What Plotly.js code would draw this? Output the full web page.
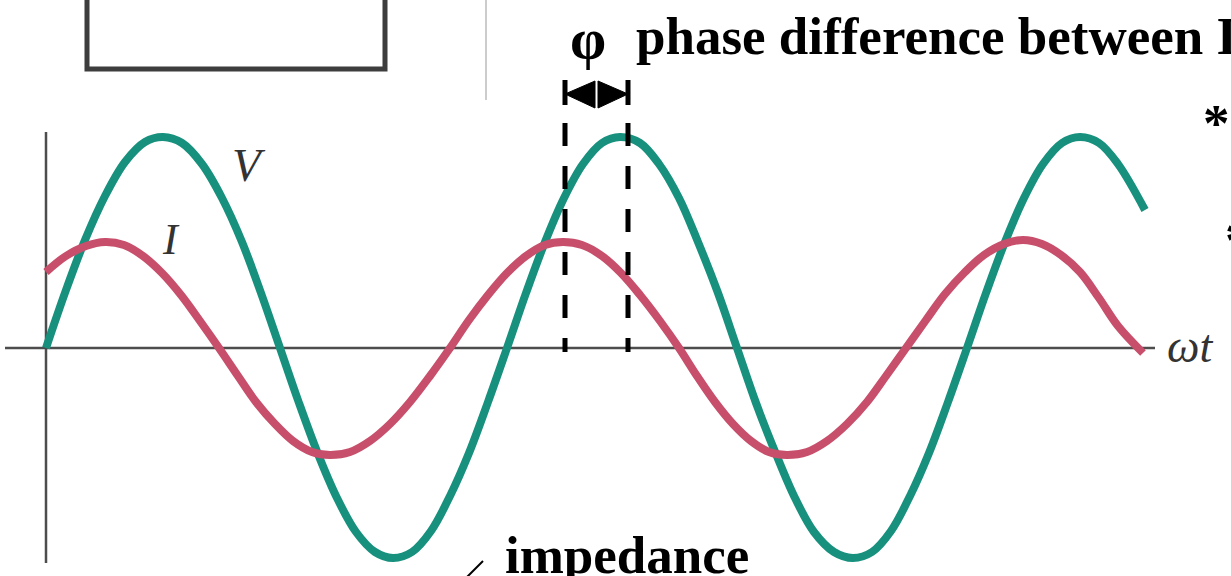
<!DOCTYPE html>
<html>
<head>
<meta charset="utf-8">
<script src="https://cdn.plot.ly/plotly-3.0.1.min.js"></script>
<style>html,body{margin:0;padding:0;background:#fff;}#chart{width:1231px;height:576px;}</style>
</head>
<body>
<div id="chart"></div>
<script>
// ωt positions (picture pixels from the origin) and values (pixels above the ωt axis)
const vT = [0, 20, 39, 59, 79, 99, 117, 136, 156, 176, 196, 215, 234, 253, 272, 291, 310, 329, 347, 366, 385, 404, 423, 442, 461, 480, 499, 518, 537, 556, 574, 594, 613, 633, 652, 672, 691, 710, 730, 749, 768, 788, 807, 826, 845, 864, 883, 902, 921, 940, 959, 978, 997, 1016, 1034, 1053, 1072, 1099];
const vVal = [0, 58, 108, 152, 186, 206, 211, 205, 184, 150, 106, 55, 0, -55, -106, -150, -184, -204, -210, -204, -183, -148, -105, -54, 0, 55, 106, 150, 184, 205, 211, 205, 184, 150, 106, 55, 0, -55, -106, -150, -184, -204, -210, -204, -183, -148, -105, -54, 0, 55, 106, 150, 184, 205, 211, 205, 184, 138];
const iT = [0, 20, 40, 59, 78, 97, 116, 135, 154, 173, 192, 210, 229, 247, 266, 284, 304, 324, 344, 364, 384, 404, 423, 442, 461, 480, 499, 517, 536, 556, 575, 594, 614, 633, 651, 669, 687, 705, 723, 741, 761, 781, 801, 821, 840, 860, 880, 899, 919, 938, 958, 977, 996, 1015, 1034, 1053, 1072, 1097];
const iVal = [76, 92, 102, 106, 103, 92, 75, 53, 27, 0, -28, -54, -76, -93, -104, -107, -104, -93, -76, -54, -28, 0, 28, 53, 75, 92, 103, 106, 103, 92, 75, 53, 27, 0, -28, -54, -76, -93, -104, -107, -104, -93, -76, -54, -28, 0, 28, 54, 76, 93, 104, 108, 104, 93, 76, 50, 22, -5];
const seriesNames = ["V", "I"];
const axisLabel = "ωt";
const titleText = "phase difference between I";
const phiText = "φ";
const lowerText = "impedance";

// layout helpers: convert picture pixels into axis coordinates
const OX = 46, OY = 348;
const X = px => px - OX;
const Y = py => OY - py;

const teal = "#17907d", rose = "#c84f6b", ink = "#000000", axisInk = "#4d4d4d";

const traces = [
  {x: vT, y: vVal, name: seriesNames[0], mode: "lines", line: {color: teal, width: 8, shape: "spline", smoothing: 1}, hoverinfo: "skip"},
  {x: iT, y: iVal, name: seriesNames[1], mode: "lines", line: {color: rose, width: 8, shape: "spline", smoothing: 1}, hoverinfo: "skip"}
];

const shapes = [
  // ωt axis and vertical axis
  {type: "line", x0: X(5), x1: X(1155), y0: Y(348), y1: Y(348), line: {color: axisInk, width: 2.5}, layer: "below"},
  {type: "line", x0: X(46), x1: X(46), y0: Y(132), y1: Y(563), line: {color: axisInk, width: 2.5}, layer: "below"},
  // box at top left
  {type: "path", path: `M ${X(87)} ${Y(-10)} L ${X(87)} ${Y(69)} L ${X(385)} ${Y(69)} L ${X(385)} ${Y(-10)}`, line: {color: "#3d3d3d", width: 5}},
  // light separator
  {type: "line", x0: X(486), x1: X(486), y0: Y(0), y1: Y(100), line: {color: "#cccccc", width: 2}},
  // dashed phase markers
  {type: "line", x0: X(565), x1: X(565), y0: Y(123), y1: Y(352), line: {color: ink, width: 5, dash: "23px,20px"}},
  {type: "line", x0: X(628), x1: X(628), y0: Y(123), y1: Y(352), line: {color: ink, width: 5, dash: "23px,20px"}},
  // end bars of the double arrow
  {type: "line", x0: X(565), x1: X(565), y0: Y(80), y1: Y(105), line: {color: ink, width: 5}},
  {type: "line", x0: X(628), x1: X(628), y0: Y(80), y1: Y(105), line: {color: ink, width: 5}},
  // arrow heads
  {type: "path", path: `M ${X(565)} ${Y(94)} L ${X(595)} ${Y(81)} L ${X(595)} ${Y(108)} Z`, fillcolor: ink, line: {color: ink, width: 1}},
  {type: "path", path: `M ${X(628)} ${Y(94)} L ${X(598)} ${Y(81)} L ${X(598)} ${Y(108)} Z`, fillcolor: ink, line: {color: ink, width: 1}},
  // small stroke near "impedance"
  {type: "line", x0: X(467), x1: X(483), y0: Y(577), y1: Y(561), line: {color: ink, width: 2}}
];

const serif = "Liberation Serif, Times New Roman, serif";
const ann = (text, px, py, size, opts) => Object.assign({
  text: text, x: X(px), y: Y(py), xref: "x", yref: "y", showarrow: false,
  font: {family: serif, size: size, color: ink}, xanchor: "left", yanchor: "middle"
}, opts || {});

const annotations = [
  ann("<b>" + phiText + "</b>", 588, 38, 58, {xanchor: "center"}),
  ann("<b>" + titleText + "</b>", 634, 36, 53),
  ann("<b>*</b>", 1201, 123, 53),
  ann("<b>*</b>", 1223, 240, 53),
  ann("<b>" + lowerText + "</b>", 503, 555, 53),
  ann("<i>" + seriesNames[0] + "</i>", 249, 165, 47, {xanchor: "center", font: {family: serif, size: 47, color: "#333333"}}),
  ann("<i>" + seriesNames[1] + "</i>", 171, 239, 44, {xanchor: "center", font: {family: serif, size: 44, color: "#333333"}}),
  ann("<i>" + axisLabel + "</i>", 1165, 346, 46, {font: {family: serif, size: 46, color: "#333333"}})
];

const layout = {
  width: 1231, height: 576,
  margin: {l: 0, r: 0, t: 0, b: 0, pad: 0},
  paper_bgcolor: "#ffffff", plot_bgcolor: "#ffffff",
  showlegend: false,
  xaxis: {range: [X(0), X(1231)], visible: false, fixedrange: true},
  yaxis: {range: [Y(576), Y(0)], visible: false, fixedrange: true},
  shapes: shapes,
  annotations: annotations
};

Plotly.newPlot("chart", traces, layout, {displayModeBar: false, staticPlot: true});
</script>
</body>
</html>
